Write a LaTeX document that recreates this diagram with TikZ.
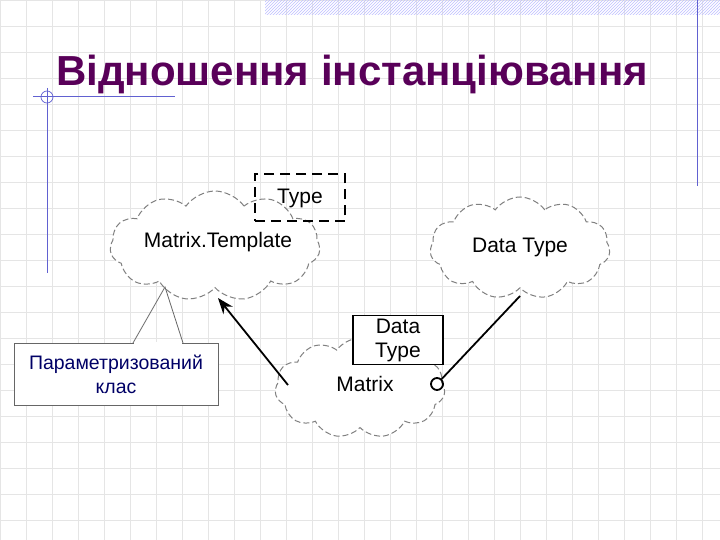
\documentclass[tikz,border=0pt]{standalone}
\usepackage{fontspec}
\setmainfont{Liberation Sans}
\usetikzlibrary{shapes.symbols,arrows.meta,patterns}
\begin{document}
\begin{tikzpicture}[x=1pt,y=-1pt,
  cloudn/.style={cloud, cloud puffs=11, cloud puff arc=110, draw=gray, dash pattern=on 6pt off 3pt, line width=1pt, fill=white, aspect=2},
  lbl/.style={font=\fontsize{21}{24}\selectfont},
  deco/.style={draw=blue!55!gray!80, line width=1pt}]
\useasboundingbox (0,0) rectangle (720,540);
\fill[white] (0,0) rectangle (720,540);
\foreach \i in {0,...,28} {\draw[gray!20, line width=0.6pt] (\i*26,0) -- (\i*26,540);}
\foreach \j in {0,...,21} {\draw[gray!20, line width=0.6pt] (0,\j*26) -- (720,\j*26);}
\fill[pattern=north east lines, pattern color=blue!25] (265,0) rectangle (720,15);
\draw[deco] (697,0) -- (697,186);
\draw[deco] (33,97) -- (175,97);
\draw[deco] (47,88) -- (47,273);
\draw[deco, line width=0.7pt] (47,97) circle (6);
\node[font=\bfseries\fontsize{42}{46}\selectfont, text=violet!70!black, anchor=base west, inner sep=0] (title) at (56,86) {Відношення інстанціювання};
% clouds
\node[cloudn, minimum width=210, minimum height=110] (mt) at (215,246) {};
\node[lbl] (mtl) at (218,242) {Matrix.Template};
\node[draw, dash pattern=on 10pt off 6pt, line width=2pt, minimum width=90, minimum height=47, lbl] (type) at (300,198) {Type};
\node[cloudn, minimum width=180, minimum height=102] (dt) at (520,248) {};
\node[lbl] (dtl) at (520,247) {Data Type};
\node[cloudn, minimum width=170, minimum height=100] (mx) at (360,388) {};
\node[lbl] (mxl) at (365,384) {Matrix};
\node[draw, fill=white, line width=1.8pt, minimum width=90, minimum height=49, align=center, lbl, inner sep=1pt] (dtb) at (398,340) {Data\\Type};
\node[draw, line width=1.8pt, circle, minimum size=12, inner sep=0] (c) at (437,384) {};
\coordinate (dtbot) at (520,296);
\draw[line width=1.8pt] (c) -- (dtbot);
\coordinate (ms) at (288,385);
\coordinate (mte) at (218,298);
\draw[line width=1.8pt, -{Stealth[length=16pt,width=12pt]}] (ms) -- (mte);
% callout
\coordinate (tip) at (165,287);
\draw[gray!80!black, line width=0.8pt] (133,343) -- (tip) -- (183,343);
\node[draw=gray!80!black, line width=0.8pt, fill=white, minimum width=204, minimum height=62, align=center, text=blue!40!black, font=\fontsize{19.5}{24}\selectfont, inner sep=1pt] (call) at (116,374) {Параметризований\\клас};
\fill[white] (134,342.3) rectangle (182,343.8);
\end{tikzpicture}
\end{document}
